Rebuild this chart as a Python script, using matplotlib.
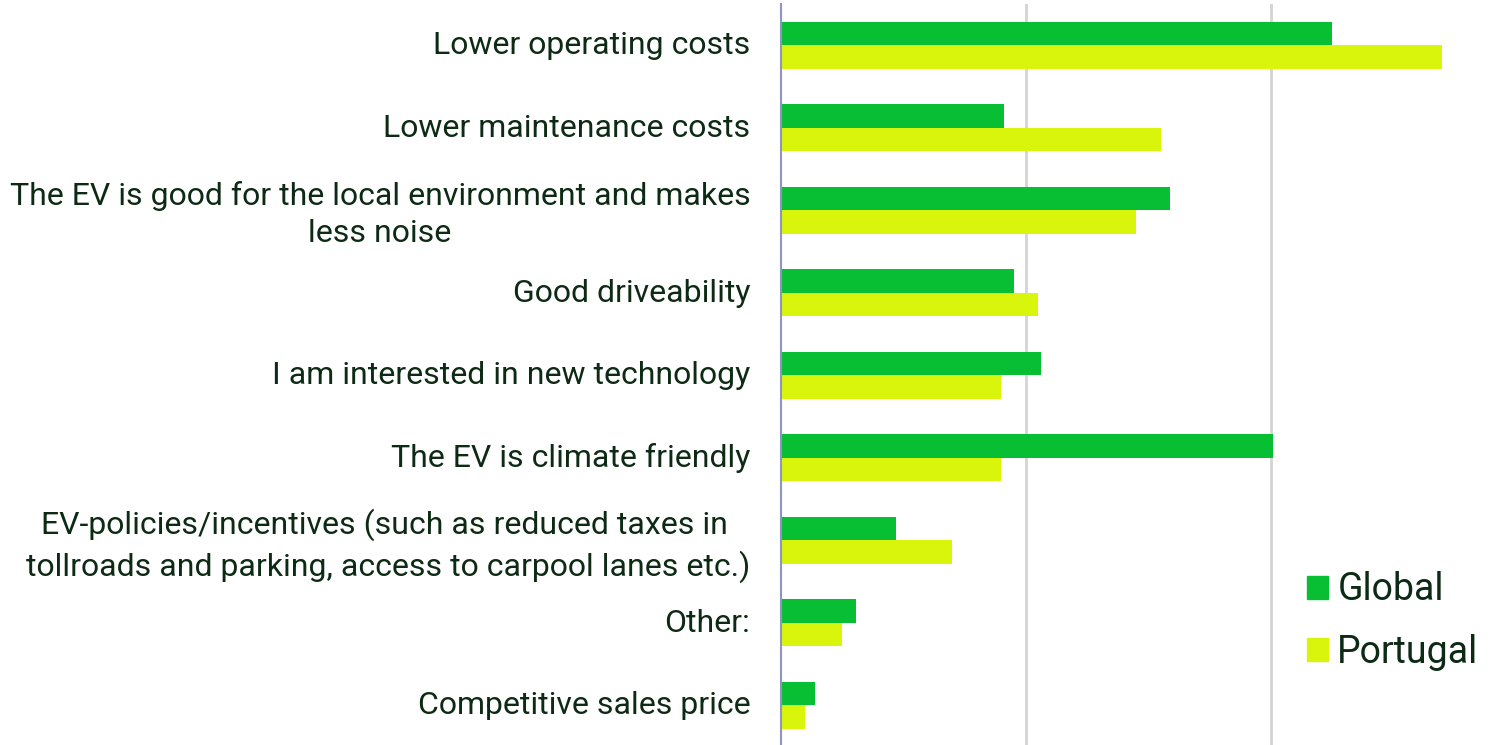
import numpy as np
import matplotlib.pyplot as plt
import matplotlib.transforms as mtransforms
from matplotlib.patches import Patch

plt.rcParams['font.family'] = ['Roboto', 'DejaVu Sans']

categories = [
    "Lower operating costs",
    "Lower maintenance costs",
    "The EV is good for the local environment and makes\nless noise",
    "Good driveability",
    "I am interested in new technology",
    "The EV is climate friendly",
    "EV-policies/incentives (such as reduced taxes in \ntollroads and parking, access to carpool lanes etc.)",
    "Other:",
    "Competitive sales price",
]
global_vals = [22.5, 9.1, 15.9, 9.5, 10.6, 20.1, 4.7, 3.05, 1.4]
portugal_vals = [27.0, 15.5, 14.5, 10.5, 9.0, 9.0, 7.0, 2.5, 1.0]

c_global = '#08bf33'
c_portugal = '#d9f50c'
c_text = '#0d2a14'

fig = plt.figure(figsize=(15.12, 7.45), dpi=100)
ax = fig.add_axes([0.5165, -0.002, 0.4835, 0.9966])

y = np.arange(len(categories))
h = 0.285
ax.barh(y - h / 2, global_vals, height=h, color=c_global, zorder=3)
ax.barh(y + h / 2, portugal_vals, height=h, color=c_portugal, zorder=3)

ax.set_ylim(len(categories) - 0.5, -0.5)
ax.set_xlim(0, 29.84)
ax.set_xticks([10, 20])
ax.xaxis.grid(True, color='#d4d4d4', linewidth=2, zorder=0)
ax.tick_params(axis='x', length=0, labelbottom=False)
ax.tick_params(axis='y', length=0, pad=22)
ax.set_yticks(y)
ax.set_yticklabels(categories, fontsize=23, color=c_text, linespacing=1.35)
shift = mtransforms.ScaledTranslation(0, 2.5 / 100, fig.dpi_scale_trans)
for lbl in ax.get_yticklabels():
    lbl.set_multialignment('center')
    lbl.set_transform(lbl.get_transform() + shift)

for s in ['top', 'right', 'bottom']:
    ax.spines[s].set_visible(False)
ax.spines['left'].set_color('#8c96c0')
ax.spines['left'].set_linewidth(1.5)
ax.spines['left'].set_zorder(4)

handles = [Patch(color=c_global, label='Global'), Patch(color=c_portugal, label='Portugal')]
leg = fig.legend(handles=handles, loc='upper left', bbox_to_anchor=(0.8644, 0.233),
                 frameon=False, fontsize=27, handlelength=0.56, handleheight=0.56,
                 handletextpad=0.25, labelspacing=0.68, borderaxespad=0, borderpad=0)
for t in leg.get_texts():
    t.set_color(c_text)

fig.savefig('out.png', dpi=100)
